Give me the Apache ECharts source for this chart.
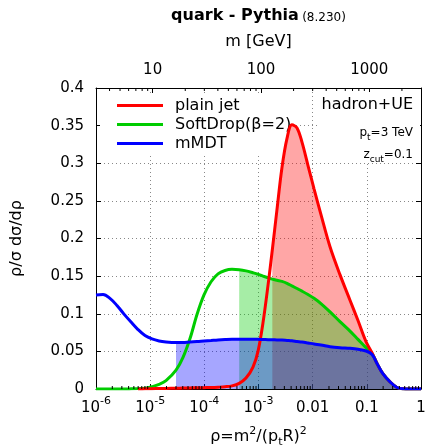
<!DOCTYPE html>
<html>
<head>
<meta charset="utf-8">
<script src="https://cdn.jsdelivr.net/npm/echarts@6/dist/echarts.min.js"></script>
<style>
  html, body { margin: 0; padding: 0; background: #fff; }
  #chart { width: 428px; height: 447px; }
</style>
</head>
<body>
<div id="chart"></div>
<script>
// rho = m^2/(pt R)^2 sampling points shared by the three distributions
const rho = [1.00e-6, 1.35e-6, 1.81e-6, 2.44e-6, 3.29e-6, 4.43e-6, 5.96e-6, 8.03e-6,
  1.08e-5, 1.46e-5, 1.96e-5, 3.00e-5, 4.04e-5, 5.44e-5, 7.32e-5, 9.86e-5,
  1.33e-4, 1.79e-4, 2.41e-4, 3.24e-4, 4.40e-4, 5.88e-4, 7.91e-4, 9.79e-4,
  1.21e-3, 1.50e-3, 1.80e-3, 2.19e-3, 2.71e-3, 3.36e-3, 4.15e-3, 5.14e-3,
  6.35e-3, 8.20e-3, 1.06e-2, 1.42e-2, 2.09e-2, 3.19e-2, 4.89e-2, 6.87e-2,
  9.65e-2, 0.125, 0.154, 0.199, 0.268, 0.360, 0.465, 0.626, 1.00];

// rho/sigma dsigma/drho for each jet definition
const plainJet = [null, null, null, null, null, null, 0, 0.0002,
  0.0004, 0.0006, 0.0008, 0.001, 0.0012, 0.0014, 0.0016, 0.0018,
  0.002, 0.0024, 0.003, 0.0042, 0.0075, 0.0145, 0.029, 0.050,
  0.088, 0.138, 0.185, 0.238, 0.294, 0.333, 0.351, 0.347,
  0.328, 0.297, 0.266, 0.232, 0.189, 0.152, 0.118, 0.091,
  0.063, 0.048, 0.034, 0.020, 0.0095, 0.002, 0.0003, 0, 0];

const softDrop = [0, 0, 0, 0, 0, 0.0002, 0.0005, 0.001,
  0.003, 0.006, 0.011, 0.025, 0.042, 0.067, 0.099, 0.125,
  0.1425, 0.153, 0.1575, 0.159, 0.1585, 0.157, 0.1545, 0.1525,
  0.150, 0.148, 0.146, 0.1445, 0.143, 0.1405, 0.137, 0.1335,
  0.130, 0.1255, 0.1205, 0.1135, 0.1025, 0.0895, 0.077, 0.066,
  0.055, 0.047, 0.034, 0.020, 0.0095, 0.002, 0.0003, 0, 0];

const mMDT = [0.125, 0.1255, 0.1205, 0.111, 0.0995, 0.089, 0.079, 0.071,
  0.0665, 0.0638, 0.0625, 0.0617, 0.0618, 0.0625, 0.063, 0.0638,
  0.0645, 0.0652, 0.0657, 0.066, 0.066, 0.066, 0.066, 0.066,
  0.0658, 0.0656, 0.0654, 0.0652, 0.065, 0.0645, 0.064, 0.0632,
  0.0625, 0.0612, 0.0598, 0.0585, 0.0562, 0.0548, 0.054, 0.0528,
  0.0505, 0.046, 0.034, 0.020, 0.0095, 0.002, 0.0003, 0, 0];

const seriesNames = ['plain jet', 'SoftDrop(β=2)', 'mMDT'];
const seriesColors = ['#ff0000', '#00cc00', '#0000ff'];
// shaded region of each curve starts at these rho values
const shadeFrom = [1.8e-3, 4.4e-4, 3.0e-5];

// axis labels
const rhoTicks = [1e-6, 1e-5, 1e-4, 1e-3, 0.01, 0.1, 1];
const rhoTickLabels = ['{b|10}{sup|-6}', '{b|10}{sup|-5}', '{b|10}{sup|-4}', '{b|10}{sup|-3}',
  '{b|0.01}', '{b|0.1}', '{b|1}'];
const massTicks = [10, 100, 1000];
const massTickLabels = ['10', '100', '1000'];

const ptR = 3000; // GeV, pt = 3 TeV, R = 1
const FONT = 'DejaVu Sans';

// minor tick positions on log axes (2..9 in each decade)
const rhoMinor = [];
for (let e = -6; e < 0; e++) for (let k = 2; k <= 9; k++) rhoMinor.push(k * Math.pow(10, e));
const massMinor = [];
for (let e = 0; e <= 3; e++) for (let k = 1; k <= 9; k++) {
  const m = k * Math.pow(10, e);
  if (m > 3 && m < 3000 && k !== 1) massMinor.push(m);
}

function pairs(values, from) {
  const out = [];
  for (let i = 0; i < rho.length; i++) {
    if (values[i] == null) continue;
    if (from != null && rho[i] < from) continue;
    out.push([rho[i], values[i]]);
  }
  return out;
}

const curves = [plainJet, softDrop, mMDT];

const fillSeries = curves.map((vals, i) => ({
  name: seriesNames[i] + ' window',
  type: 'line',
  data: pairs(vals, shadeFrom[i]),
  smooth: 0.35,
  symbol: 'none',
  lineStyle: { width: 0, opacity: 0 },
  areaStyle: { color: seriesColors[i], opacity: 0.35 },
  silent: true,
  z: 2
}));

// draw order of lines: SoftDrop, plain jet, mMDT on top
const lineOrder = [1, 0, 2];
const lineSeries = lineOrder.map(i => ({
  name: seriesNames[i],
  type: 'line',
  data: pairs(curves[i]),
  smooth: 0.35,
  symbol: 'none',
  color: seriesColors[i],
  lineStyle: { width: 3, color: seriesColors[i] },
  z: 3
}));

function minorTicks(xAxisIndex, values, atTop) {
  return {
    type: 'custom',
    xAxisIndex: xAxisIndex,
    yAxisIndex: 0,
    silent: true,
    clip: false,
    z: 5,
    data: values.map(v => [v, atTop ? 0.4 : 0]),
    renderItem: function (params, api) {
      const p = api.coord([api.value(0), api.value(1)]);
      return {
        type: 'line',
        shape: { x1: p[0], y1: p[1], x2: p[0], y2: p[1] + (atTop ? 3 : -3) },
        style: { stroke: '#000', lineWidth: 1 }
      };
    }
  };
}

const supRich = {
  b: { fontSize: 15, fontFamily: FONT, color: '#000', lineHeight: 20, verticalAlign: 'bottom' },
  sup: { fontSize: 11, fontFamily: FONT, color: '#000', lineHeight: 20, verticalAlign: 'top' }
};

const chart = echarts.init(document.getElementById('chart'), null, { renderer: 'canvas' });

chart.setOption({
  animation: false,
  backgroundColor: '#fff',
  grid: { left: 96, right: 7, top: 88, bottom: 58, containLabel: false, outerBoundsMode: 'none' },
  legend: {
    data: seriesNames,
    orient: 'vertical',
    left: 100,
    top: 94,
    padding: [2, 4, 2, 17],
    itemGap: 0,
    itemWidth: 46,
    itemHeight: 3,
    icon: 'rect',
    backgroundColor: '#fff',
    selectedMode: false,
    z: 1,
    textStyle: { fontSize: 16, fontFamily: FONT, color: '#000', lineHeight: 19, padding: [0, 0, 0, 7] }
  },
  graphic: [
    {
      type: 'text', x: 258.5, y: 14, z: 10,
      style: {
        text: '{b|quark - Pythia} {s|(8.230)}',
        align: 'center', verticalAlign: 'middle',
        rich: {
          b: { fontSize: 16, fontWeight: 'bold', fontFamily: FONT, fill: '#000', lineHeight: 20, verticalAlign: 'bottom' },
          s: { fontSize: 12, fontFamily: FONT, fill: '#000', lineHeight: 20, verticalAlign: 'bottom' }
        }
      }
    },
    { type: 'rect', z: 1, shape: { x: 318, y: 92, width: 102, height: 70 }, style: { fill: '#fff' } },
    {
      type: 'text', x: 413, y: 105, z: 10,
      style: { text: 'hadron+UE', fontSize: 16, fontFamily: FONT, fill: '#000', align: 'right', verticalAlign: 'middle' }
    },
    {
      type: 'text', x: 413, y: 133, z: 10,
      style: {
        text: '{n|p}{s|t}{n|=3 TeV}', align: 'right', verticalAlign: 'middle',
        rich: {
          n: { fontSize: 12, fontFamily: FONT, fill: '#000', lineHeight: 18, verticalAlign: 'middle' },
          s: { fontSize: 9, fontFamily: FONT, fill: '#000', lineHeight: 18, verticalAlign: 'bottom' }
        }
      }
    },
    {
      type: 'text', x: 413, y: 155, z: 10,
      style: {
        text: '{n|z}{s|cut}{n|=0.1}', align: 'right', verticalAlign: 'middle',
        rich: {
          n: { fontSize: 12, fontFamily: FONT, fill: '#000', lineHeight: 18, verticalAlign: 'middle' },
          s: { fontSize: 9, fontFamily: FONT, fill: '#000', lineHeight: 18, verticalAlign: 'bottom' }
        }
      }
    }
  ],
  xAxis: [
    {
      type: 'log', logBase: 10, min: rhoTicks[0], max: rhoTicks[rhoTicks.length - 1],
      splitNumber: 6, position: 'bottom',
      axisLine: { show: true, onZero: false, lineStyle: { color: '#000', width: 1 } },
      axisTick: { show: true, inside: true, length: 5, lineStyle: { color: '#000' } },
      axisLabel: {
        margin: 7,
        formatter: function (v) {
          const idx = rhoTicks.findIndex(t => Math.abs(Math.log10(t) - Math.log10(v)) < 1e-6);
          return idx >= 0 ? rhoTickLabels[idx] : '';
        },
        rich: supRich
      },
      splitLine: { show: true, lineStyle: { color: '#888', width: 1, type: [1, 3] } },
      name: '{n|ρ=m}{sup|2}{n|/(p}{sub|t}{n|R)}{sup|2}',
      nameLocation: 'middle',
      nameGap: 37,
      nameTextStyle: {
        rich: {
          n: { fontSize: 16, fontFamily: FONT, color: '#000', lineHeight: 22, verticalAlign: 'middle' },
          sup: { fontSize: 11, fontFamily: FONT, color: '#000', lineHeight: 22, verticalAlign: 'top' },
          sub: { fontSize: 11, fontFamily: FONT, color: '#000', lineHeight: 22, verticalAlign: 'bottom' }
        }
      }
    },
    {
      type: 'log', logBase: 10, min: ptR * Math.sqrt(rhoTicks[0]), max: ptR * Math.sqrt(rhoTicks[rhoTicks.length - 1]),
      splitNumber: 3, position: 'top',
      axisLine: { show: true, onZero: false, lineStyle: { color: '#000', width: 1 } },
      axisTick: { show: true, inside: true, length: 5, lineStyle: { color: '#000' } },
      axisLabel: {
        margin: 10, fontSize: 15, fontFamily: FONT, color: '#000',
        showMinLabel: false, showMaxLabel: false,
        formatter: function (v) {
          const idx = massTicks.findIndex(t => Math.abs(t - v) / t < 1e-6);
          return idx >= 0 ? massTickLabels[idx] : '';
        }
      },
      splitLine: { show: false },
      name: 'm [GeV]',
      nameLocation: 'middle',
      nameGap: 38,
      nameTextStyle: { fontSize: 16, fontFamily: FONT, color: '#000' }
    }
  ],
  yAxis: [
    {
      type: 'value', min: 0, max: 0.4, interval: 0.05, position: 'left',
      axisLine: { show: true, onZero: false, lineStyle: { color: '#000', width: 1 } },
      axisTick: { show: true, inside: true, length: 5, lineStyle: { color: '#000' } },
      axisLabel: { margin: 12, fontSize: 15, fontFamily: FONT, color: '#000' },
      splitLine: { show: true, lineStyle: { color: '#888', width: 1, type: [1, 3] } },
      name: 'ρ/σ dσ/dρ',
      nameLocation: 'middle',
      nameGap: 71,
      nameTextStyle: { fontSize: 16, fontFamily: FONT, color: '#000' }
    },
    {
      type: 'value', min: 0, max: 0.4, interval: 0.05, position: 'right',
      axisLine: { show: true, onZero: false, lineStyle: { color: '#000', width: 1 } },
      axisTick: { show: true, inside: true, length: 5, lineStyle: { color: '#000' } },
      axisLabel: { show: false },
      splitLine: { show: false }
    }
  ],
  series: fillSeries.concat(lineSeries, [
    minorTicks(0, rhoMinor, false),
    minorTicks(1, massMinor, true)
  ])
});
</script>
</body>
</html>
